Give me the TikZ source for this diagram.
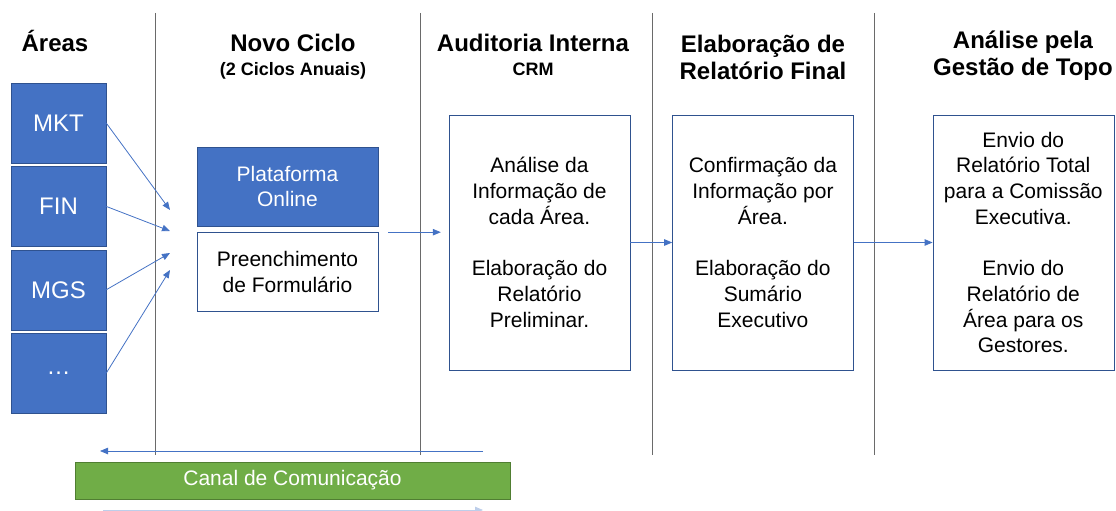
\documentclass[tikz,border=0pt]{standalone}
\usepackage{fontspec}
\setmainfont{Liberation Sans}
\usepackage{tikz}
\usetikzlibrary{arrows.meta, positioning}
\definecolor{OfficeBlue}{HTML}{4472C4}
\definecolor{OfficeBlueLine}{HTML}{2F528F}
\definecolor{OfficeGreen}{HTML}{70AD47}
\definecolor{OfficeGreenLine}{HTML}{507E32}
\definecolor{RuleGray}{HTML}{6A6A6A}
\newcommand{\bodyfont}{\fontsize{21}{25.7}\selectfont}
\newcommand{\areafont}{\fontsize{24}{28}\selectfont}
\newcommand{\headfont}{\bfseries\fontsize{24}{28}\selectfont}
\newcommand{\subheadfont}{\bfseries\fontsize{18}{22}\selectfont}
\tikzstyle{area} = [rectangle, text centered, draw=OfficeBlueLine, fill=OfficeBlue, text=white, minimum width=95pt, minimum height=80pt, inner sep=0pt, font=\areafont]
\tikzstyle{platform} = [rectangle, align=center, draw=OfficeBlueLine, fill=OfficeBlue, text=white, minimum width=181pt, minimum height=79pt, inner sep=0pt, font=\bodyfont]
\tikzstyle{form} = [rectangle, align=center, draw=OfficeBlueLine, fill=white, minimum width=181pt, minimum height=79pt, inner sep=0pt, font=\bodyfont]
\tikzstyle{stage} = [rectangle, align=center, draw=OfficeBlueLine, fill=white, minimum width=181pt, minimum height=255pt, inner sep=0pt, font=\bodyfont]
\tikzstyle{channel} = [rectangle, text centered, draw=OfficeGreenLine, fill=OfficeGreen, text=white, minimum width=435pt, minimum height=37pt, inner sep=0pt, font=\bodyfont]
\tikzstyle{heading} = [align=center, inner sep=0pt, anchor=base, font=\headfont]
\tikzstyle{subheading} = [align=center, inner sep=0pt, anchor=base, font=\subheadfont]
\tikzstyle{arrow} = [-{Triangle[length=8pt,width=6.5pt]}, OfficeBlue, line width=0.8pt]
\tikzstyle{divider} = [RuleGray, line width=0.9pt]

\begin{document}
\begin{tikzpicture}[x=1pt, y=-1pt, node distance=3pt and 3pt]
  \useasboundingbox (0,0) rectangle (1116,511);

  % column rules
  \draw [divider] (155,13) -- (155,455);
  \draw [divider] (420,13) -- (420,455);
  \draw [divider] (652,13) -- (652,455);
  \draw [divider] (874,13) -- (874,455);

  % headings
  \node (areashead) [heading] at (55,52) {Áreas};
  \node (novohead) [heading] at (293,52) {Novo Ciclo};
  \node (novosub) [subheading] at (293,76) {(2 Ciclos Anuais)};
  \node (audhead) [heading] at (533,52) {Auditoria Interna};
  \node (audsub) [subheading] at (533,75) {CRM};
  \node (elabhead) [heading] at (763,80) {Elaboração de\\ Relatório Final};
  \node (topohead) [heading] at (1023,76) {Análise pela\\ Gestão de Topo};

  % areas
  \node (mkt) [area] at (58.5,123) {MKT};
  \node (fin) [area, below=of mkt] {FIN};
  \node (mgs) [area, below=of fin] {MGS};
  \node (others) [area, below=of mgs] {…};

  % new cycle
  \node (plat) [platform] at (287.5,186.5) {Plataforma\\ Online};
  \node (pref) [form, below=6pt of plat] {Preenchimento\\ de Formulário};

  % stages
  \node (aud) [stage] at (539.5,242.5) {Análise da\\ Informação de\\ cada Área.\\[26pt] Elaboração do\\ Relatório\\ Preliminar.};
  \node (elab) [stage, right=42pt of aud] {Confirmação da\\ Informação por\\ Área.\\[26pt] Elaboração do\\ Sumário\\ Executivo};
  \node (topo) [stage, right=79pt of elab] {Envio do\\ Relatório Total\\ para a Comissão\\ Executiva.\\[26pt] Envio do\\ Relatório de\\ Área para os\\ Gestores.};

  % communication channel
  \node (canal) [channel] at (292.5,480.5) {Canal de Comunicação};

  \coordinate (hubA) at (170,210);
  \coordinate (hubB) at (170,231);
  \coordinate (hubC) at (170,253);
  \coordinate (hubD) at (170,270);
  \coordinate (backstart) at (483,451);
  \coordinate (backend) at (100,451);
  \coordinate (fwdstart) at (103,510);
  \coordinate (fwdend) at (483,510);

  \draw [arrow] (mkt.east) -- (hubA);
  \draw [arrow] (fin.east) -- (hubB);
  \draw [arrow] (mgs.east) -- (hubC);
  \draw [arrow] (others.east) -- (hubD);
  \draw [arrow] ([xshift=10pt]pref.north east) -- ([xshift=-8pt]aud.west |- pref.north east);
  \draw [arrow] (aud) -- (elab);
  \draw [arrow] (elab) -- (topo);
  \draw [arrow] (backstart) -- (backend);
  \draw [arrow, OfficeBlue!35] (fwdstart) -- (fwdend);

\end{tikzpicture}
\end{document}
